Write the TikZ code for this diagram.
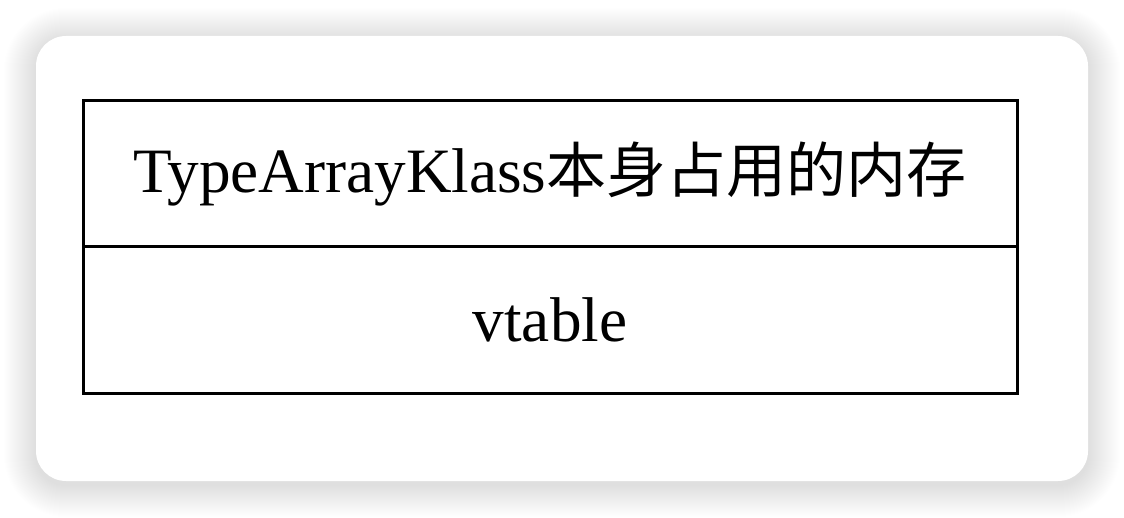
\documentclass[tikz,border=0pt]{standalone}
\usepackage{fontspec}
\setmainfont{Liberation Serif}
\newfontfamily\cjk[Scale=0.95]{Noto Sans CJK SC}
\usetikzlibrary{positioning}

\tikzset{
  card/.style={fill=white, draw=none, rounded corners=15pt},
  halo/.style={fill=black, fill opacity=0.0035, draw=none},
  cell/.style={draw=black, line width=1.5pt, fill=white,
    minimum width=467pt, minimum height=73pt, inner sep=0pt,
    font=\fontsize{31.6pt}{38pt}\selectfont}
}

\begin{document}
\begin{tikzpicture}[x=0.5pt, y=-0.5pt]
  \useasboundingbox[fill=white] (0,0) rectangle (1124,518);
  % soft shadow round the card
  \foreach \d in {1,2,...,32}
    \path[halo, rounded corners={15pt+0.5pt*\d}]
      (36-\d,36-\d+4) rectangle (1088+\d,481+\d+4);
  \path[card] (36,36) rectangle (1088,481);
  % memory layout cells
  \node[cell] (klass) at (550,174) {TypeArrayKlass{\cjk 本身占用的内存}};
  \node[cell, below=-1.5pt of klass] (vtable) {vtable};
\end{tikzpicture}
\end{document}
